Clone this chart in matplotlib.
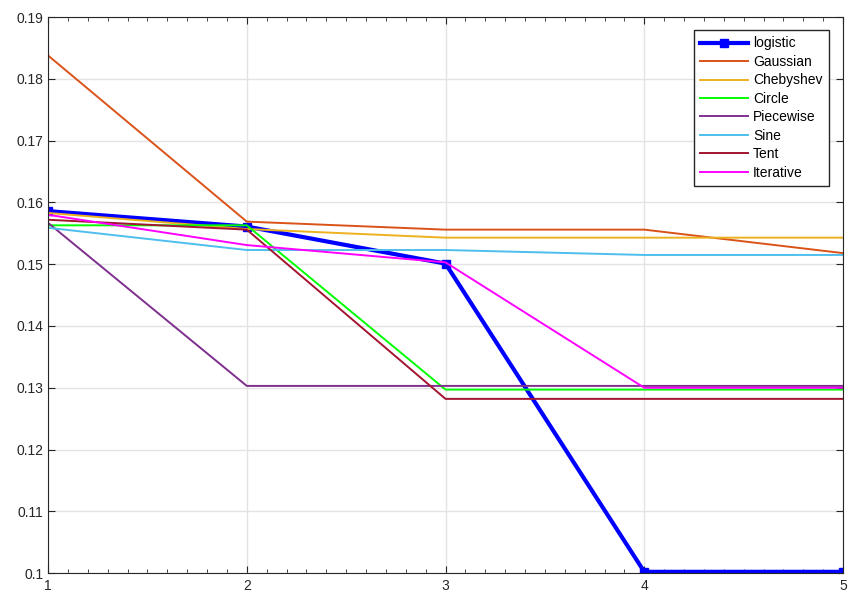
import matplotlib
matplotlib.use('Agg')
import matplotlib.pyplot as plt
from matplotlib.ticker import MultipleLocator

plt.rcParams['font.family'] = ['Liberation Sans', 'DejaVu Sans']

x = [1, 2, 3, 4, 5]
logistic = [0.1586, 0.1561, 0.1501, 0.1002, 0.1002]
gaussian = [0.1838, 0.1569, 0.1556, 0.1556, 0.1518]
chebyshev = [0.1583, 0.1557, 0.1543, 0.1543, 0.1543]
circle = [0.1563, 0.1563, 0.1297, 0.1297, 0.1297]
piecewise = [0.1567, 0.1303, 0.1303, 0.1303, 0.1303]
sine = [0.1559, 0.1523, 0.1523, 0.1515, 0.1515]
tent = [0.1572, 0.1556, 0.1282, 0.1282, 0.1282]
iterative = [0.1580, 0.1531, 0.1503, 0.1300, 0.1300]

fig = plt.figure(figsize=(8.5, 5.92), dpi=100)
ax = fig.add_axes([0.0565, 0.032, 0.9353, 0.939])

ax.plot(x, logistic, '-s', color='#0000FF', linewidth=3, markersize=6, label='logistic')
ax.plot(x, gaussian, color='#D95319', linewidth=1.4, label='Gaussian')
ax.plot(x, chebyshev, color='#EDB120', linewidth=1.4, label='Chebyshev')
ax.plot(x, circle, color='#00FF00', linewidth=1.4, label='Circle')
ax.plot(x, piecewise, color='#7E2F8E', linewidth=1.4, label='Piecewise')
ax.plot(x, sine, color='#4DBEEE', linewidth=1.4, label='Sine')
ax.plot(x, tent, color='#A2142F', linewidth=1.4, label='Tent')
ax.plot(x, iterative, color='#FF00FF', linewidth=1.4, label='Iterative')

ax.set_xlim(1, 5)
ax.set_ylim(0.1, 0.19)
ax.set_xticks([1, 2, 3, 4, 5])
ax.set_yticks([0.1, 0.11, 0.12, 0.13, 0.14, 0.15, 0.16, 0.17, 0.18, 0.19])
ax.set_yticklabels(['0.1', '0.11', '0.12', '0.13', '0.14', '0.15', '0.16', '0.17', '0.18', '0.19'])
ax.xaxis.set_minor_locator(MultipleLocator(0.1))
ax.grid(True, which='major', color='#e3e3e3', linewidth=1)
ax.tick_params(which='both', direction='in', top=True, right=True, colors='#262626', labelsize=10)
ax.tick_params(which='major', length=5)
ax.tick_params(which='minor', length=3)
ax.tick_params(axis='x', pad=4)
for s in ax.spines.values():
    s.set_color('#262626')

leg = ax.legend(loc='upper right', bbox_to_anchor=(0.991, 0.989), fontsize=10,
                fancybox=False, edgecolor='#262626', handlelength=3.4,
                handletextpad=0.4, labelspacing=0.32, borderpad=0.45, framealpha=1)
leg.get_frame().set_linewidth(1)

fig.savefig('out.png', dpi=100)
